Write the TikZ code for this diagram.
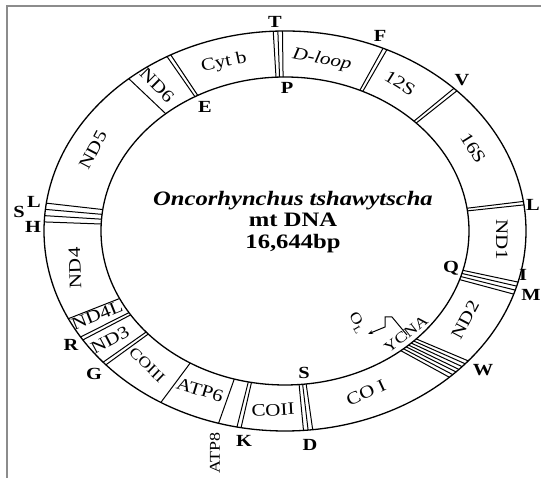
\documentclass[tikz,border=0pt]{standalone}
\usepackage{fontspec}
\setmainfont{Liberation Serif}[FakeStretch=1.2]
\usetikzlibrary{arrows.meta}

\tikzset{
  gene/.style={font=\fontsize{17.5}{17.5}\selectfont, inner sep=0pt},
  site/.style={font=\fontsize{17}{17}\selectfont\bfseries, inner sep=0pt},
  ring/.style={line width=1.3pt},
  bound/.style={line width=1pt}
}

\begin{document}
\begin{tikzpicture}[x=1pt, y=1pt]
\useasboundingbox (0,0) rectangle (541,478);
\draw[line width=1.5pt, black!45] (7,0) -- (7,472) -- (541,472);

% the ring and the gene borders
\begin{scope}[shift={(285,247)}]
\coordinate (C) at (0,0);
\draw[ring] (C) ellipse [x radius=241pt, y radius=200pt];
\draw[ring] (C) ellipse [x radius=184pt, y radius=154pt];
\foreach \a in {92.8,91.7,90.6, 66,65, 45.5,44.5, 8.5,7.5,
                -14.8,-16,-17.2,-18.4, -83.4,-84.5,-85.6,
                -100.5,-101.5, -106, -121, -138,-139, -147,-148, -154,
                172,173.8,175.6,177.4, 130.4, 118.3,119.3}
  \draw[bound] (\a:184pt and 154pt) -- (\a:241pt and 200pt);
\foreach \a in {-40.5,-41.6,-42.7,-43.8,-44.8,-45.9,-47}
  \draw[bound] ({\a-4}:184pt and 154pt) -- (\a:241pt and 200pt);
\end{scope}

% sites
\node[site] (T) at (275,456) {T};
\node[site] (P) at (287,390) {P};
\node[site] (E) at (205,371) {E};
\node[site] (F) at (380,442) {F};
\node[site] (V) at (462,398) {V};
\node[site] (Lr) at (533,273) {L};
\node[site] (Q) at (451,210) {Q};
\node[site] (I) at (523,203) {I};
\node[site] (M) at (531,183) {M};
\node[site] (W) at (483,108) {W};
\node[site] (Sb) at (304,105) {S};
\node[site] (D) at (310,33) {D};
\node[site] (K) at (244,37) {K};
\node[site] (G) at (94,104) {G};
\node[site] (R) at (71,133) {R};
\node[site] (Sl) at (19,266) {S};
\node[site] (Ll) at (34,276) {L};
\node[site] (H) at (33,251) {H};

% genes
\node[gene, rotate=12] (cytb) at (224,415) {Cyt b};
\node[gene, rotate=-11] (dloop) at (322,418) {\itshape D-loop};
\node[gene, rotate=-32] (s12) at (400,395) {12S};
\node[gene, rotate=-58] (s16) at (473,330) {16S};
\node[gene, rotate=-90] (nd1) at (502,238) {ND1};
\node[gene, rotate=62] (nd2) at (465,158) {ND2};
\node[gene, rotate=25] (co1) at (366,85) {CO I};
\node[gene, rotate=3] (co2) at (273,68) {COII};
\node[gene, rotate=-17] (atp6) at (200,88) {ATP6};
\node[gene, rotate=90, font=\fontsize{15}{15}\selectfont] (atp8) at (215,25) {ATP8};
\node[gene, rotate=-44, font=\fontsize{15}{15}\selectfont] (co3) at (147,113) {COIII};
\node[gene, rotate=28] (nd3) at (110,138) {ND3};
\node[gene, rotate=22] (nd4l) at (97,163) {ND4L};
\node[gene, rotate=92] (nd4) at (75,210) {ND4};
\node[gene, rotate=62] (nd5) at (93,328) {ND5};
\node[gene, rotate=-45] (nd6) at (157,393) {ND6};
\node[gene, rotate=38, font=\fontsize{15}{15}\selectfont] (ycna) at (406,144) {YCNA};

% origin of light strand
\coordinate (olA) at (407,143);
\coordinate (olB) at (392,161);
\coordinate (olC) at (385,161);
\coordinate (olD) at (385,151);
\coordinate (olE) at (368,144);
\draw[bound, -{Stealth[length=5pt]}] (olA) -- (olB) -- (olC) -- (olD) -- (olE);
\node[gene, rotate=-60, font=\fontsize{15}{15}\selectfont] (ol) at (357,155) {O\raisebox{-0.4ex}{\fontsize{10}{10}\selectfont L}};

\node[align=center, font=\fontsize{20.5}{21.5}\selectfont\bfseries] (title) at (293,256)
  {\textit{Oncorhynchus tshawytscha}\\mt DNA\\16,644bp};
\end{tikzpicture}
\end{document}
